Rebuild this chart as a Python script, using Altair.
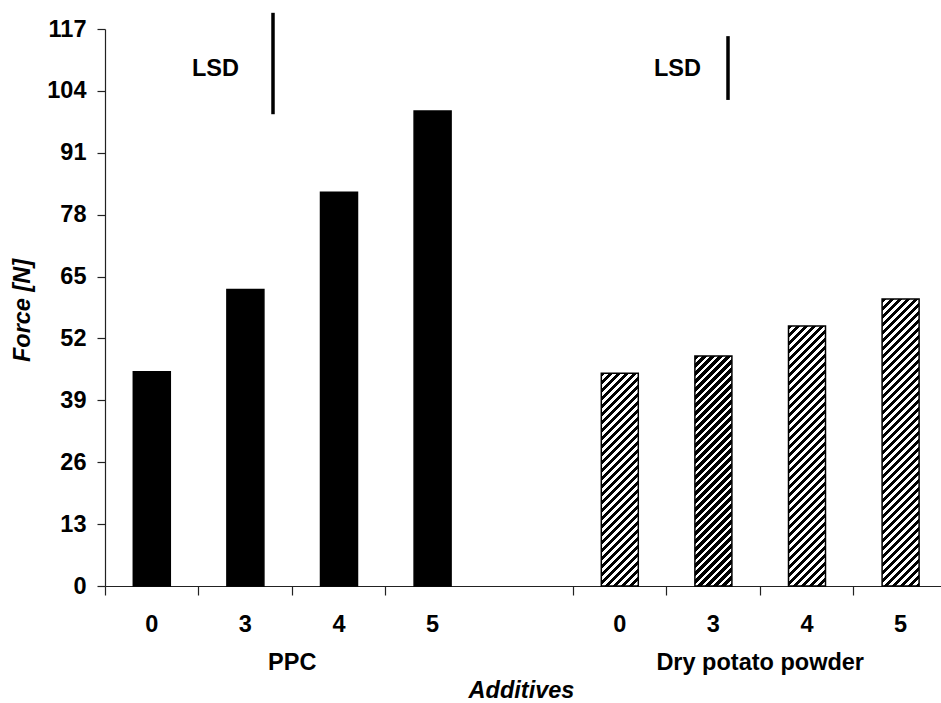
import altair as alt

# ---------------- data ----------------
groups = ["PPC", "Dry potato powder"]
levels = ["0", "3", "4", "5"]
ppc_force = [45.0, 62.3, 82.7, 99.8]
dpp_force = [44.7, 48.3, 54.6, 60.3]
lsd_top = [120.4, 115.5]
lsd_bottom = [99.1, 102.1]
y_ticks = [0, 13, 26, 39, 52, 65, 78, 91, 104, 117]

# ---------------- layout / style ----------------
W, H = 836, 557
Y_MAX = 117
STEP = 93.6
BAR_W = 37
FONT = "Liberation Sans"
FS = 23.5
GAP = "gap"


def cat(g, l):
    return f"{g}|{l}"


domain = [cat(groups[0], l) for l in levels] + [GAP] + [cat(groups[1], l) for l in levels]
x_scale = alt.Scale(domain=domain, range=[0, STEP * len(domain)], paddingInner=0, paddingOuter=0)
y_scale = alt.Scale(domain=[0, Y_MAX], nice=False, zero=True)


def hatch(value, period=8.0, black=4.3):
    """Diagonal '/' stripes as a hard-stop linear gradient in bbox units."""
    h = value * H / Y_MAX
    L = BAR_W + h
    stops = [{"offset": 0, "color": "white"}]
    s = 0.0
    while s < L:
        a = round(s / L, 6)
        b = round(min((s + black) / L, 1.0), 6)
        stops += [
            {"offset": a, "color": "white"},
            {"offset": a, "color": "black"},
            {"offset": b, "color": "black"},
            {"offset": b, "color": "white"},
        ]
        s += period
    stops.append({"offset": 1, "color": "white"})
    k = L / (BAR_W ** 2 + h ** 2)
    return {"gradient": "linear", "x1": 0, "y1": 0, "x2": k * BAR_W, "y2": k * h, "stops": stops}


bars = []
for l, v in zip(levels, ppc_force):
    bars.append({"cat": cat(groups[0], l), "force": v, "paint": "black"})
for l, v in zip(levels, dpp_force):
    bars.append({"cat": cat(groups[1], l), "force": v, "paint": hatch(v)})

x_axis = alt.Axis(
    values=[d for d in domain if d != GAP],
    labelExpr="split(datum.value, '|')[1]",
    bandPosition=0,
    labelAngle=0,
    tickSize=9,
    labelPadding=17,
    title="Additives",
    titleX=416,
    titleY=111,
    titleBaseline="alphabetic",
    titleFontStyle="italic",
)
y_axis = alt.Axis(
    values=y_ticks,
    tickSize=8,
    labelPadding=11,
    title="Force [N]",
    titleAngle=270,
    titleX=-76,
    titleY=281,
    titleBaseline="alphabetic",
    titleFontStyle="italic",
)

bar_layer = alt.Chart(alt.Data(values=bars)).mark_bar(
    width=BAR_W, stroke="black", strokeWidth=1.5
).encode(
    x=alt.X("cat:N", scale=x_scale, axis=x_axis, sort=domain),
    y=alt.Y("force:Q", scale=y_scale, axis=y_axis),
    fill=alt.Fill("paint:N", scale=None, legend=None),
)

group_labels = [{"cat": cat(g, levels[2]), "g": g} for g in groups]
group_layer = alt.Chart(alt.Data(values=group_labels)).mark_text(
    font=FONT, fontSize=FS, fontWeight="bold", baseline="alphabetic", align="center", color="black"
).encode(
    x=alt.X("cat:N", scale=x_scale, axis=x_axis, bandPosition=0, sort=domain),
    y=alt.value(641),
    text="g:N",
)

layers = [bar_layer, group_layer]
rule_offsets = [27.6, 14.6]
text_offsets = [-29.9, -35.9]
for i, g in enumerate(groups):
    rec = [{"cat": cat(g, levels[1]), "force": lsd_top[i], "bottom": lsd_bottom[i], "t": "LSD"}]
    layers.append(
        alt.Chart(alt.Data(values=rec)).mark_rule(
            color="black", strokeWidth=3.5, xOffset=rule_offsets[i]
        ).encode(
            x=alt.X("cat:N", scale=x_scale, axis=x_axis, sort=domain),
            y=alt.Y("force:Q", scale=y_scale, axis=y_axis),
            y2="bottom:Q",
        )
    )
    layers.append(
        alt.Chart(alt.Data(values=rec)).mark_text(
            font=FONT, fontSize=FS, fontWeight="bold", baseline="alphabetic",
            align="center", color="black", dx=text_offsets[i]
        ).encode(
            x=alt.X("cat:N", scale=x_scale, axis=x_axis, sort=domain),
            y=alt.value(47),
            text="t:N",
        )
    )

chart = alt.layer(*layers).properties(
    width=W,
    height=H,
    padding={"left": 105, "top": 29, "right": 0, "bottom": 117},
    autosize=alt.AutoSizeParams(type="none"),
    background="white",
).configure_view(
    stroke=None
).configure_axis(
    grid=False,
    domainColor="#222",
    domainWidth=1.2,
    tickColor="#222",
    tickWidth=1.2,
    labelFont=FONT,
    labelFontSize=FS,
    labelFontWeight="bold",
    labelColor="black",
    titleFont=FONT,
    titleFontSize=FS,
    titleFontWeight="bold",
    titleColor="black",
)

chart.save("out.html", embed_options={"renderer": "svg", "actions": False})
